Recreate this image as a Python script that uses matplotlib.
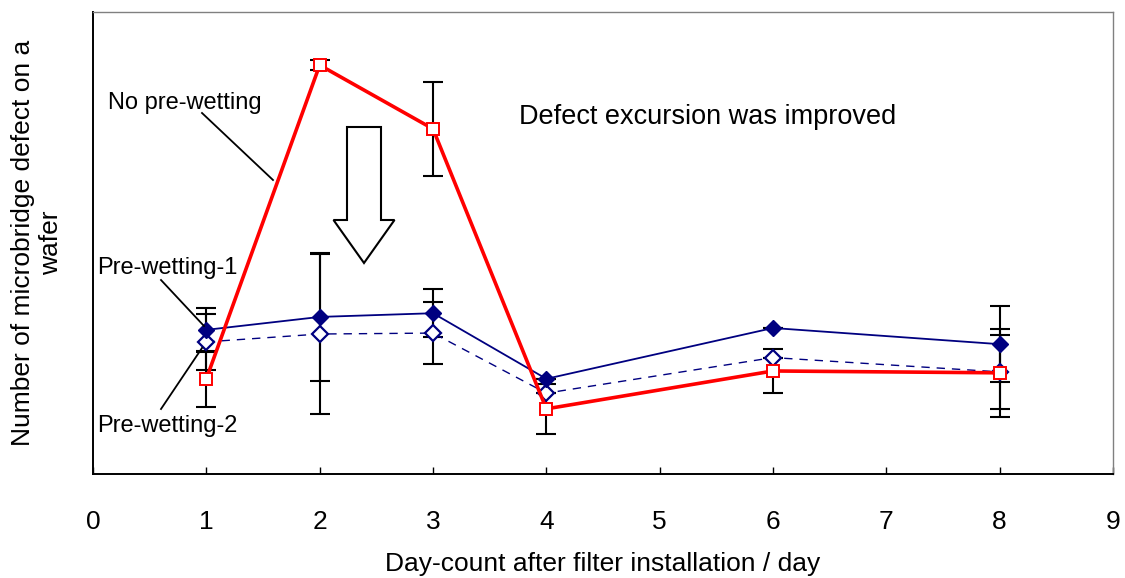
import matplotlib
matplotlib.use("Agg")
import matplotlib.pyplot as plt
from matplotlib.patches import FancyArrow

plt.rcParams['font.family'] = ['Liberation Sans', 'DejaVu Sans']

# Data (arbitrary units, axis 0..100)
days = [1, 2, 3, 4, 6, 8]
no_prewet = [20.6, 88.5, 74.7, 14.1, 22.3, 21.9]
no_prewet_err = [6.1, 1.1, 10.2, 5.4, 4.8, 9.5]
prewet1 = [31.2, 34.0, 34.8, 20.6, 31.6, 28.1]
prewet1_err = [4.8, 13.9, 5.2, 0, 0, 8.2]
prewet2 = [28.6, 30.3, 30.5, 17.5, 25.2, 22.1]
prewet2_err = [6.1, 17.3, 6.7, 0, 0, 8.0]
xticks = list(range(0, 10))

fig = plt.figure(figsize=(11.25, 5.78), dpi=100)
ax = fig.add_axes([93/1125, 1-474/578, (1113-93)/1125, (474-12)/578])

eb_kw = dict(fmt='none', ecolor='black', elinewidth=1.5, capsize=7, capthick=1.5, zorder=2)
ax.errorbar(days, prewet1, yerr=prewet1_err, **eb_kw)
ax.errorbar(days, prewet2, yerr=prewet2_err, **eb_kw)
ax.errorbar(days, no_prewet, yerr=no_prewet_err, **eb_kw)

navy = '#000080'
ax.plot(days, prewet2, color=navy, lw=1.0, ls=(0, (6, 5)), marker='D', ms=8,
        mfc='white', mec=navy, mew=1.6, zorder=3)
ax.plot(days, prewet1, color=navy, lw=1.3, marker='D', ms=8.5,
        mfc=navy, mec=navy, zorder=4)
ax.plot(days, no_prewet, color='#ff0000', lw=2.6, marker='s', ms=8.5,
        mfc='white', mec='#ff0000', mew=1.4, zorder=5)

ax.set_xlim(0, 9)
ax.set_ylim(0, 100)
ax.set_xticks(xticks)
ax.set_yticks([])
ax.tick_params(axis='x', direction='in', length=5, width=1, pad=26, labelsize=19)

for s in ['left', 'bottom']:
    ax.spines[s].set_linewidth(1.4)
    ax.spines[s].set_color('black')
for s in ['top', 'right']:
    ax.spines[s].set_linewidth(1.0)
    ax.spines[s].set_color('#808080')

ax.set_xlabel('Day-count after filter installation / day', fontsize=19, labelpad=13)
fig.text(37/1125, 1-243/578, 'Number of microbridge defect on a\nwafer', rotation=90,
         ha='center', va='center', fontsize=19, linespacing=1.25)

# annotations
def px(xp, yp):
    return ((xp - 93) / (1020 / 9), (474 - yp) / 4.62)

ax.text(*px(108, 103), 'No pre-wetting', fontsize=17, ha='left', va='center')
ax.plot(*zip(px(202, 113), px(273, 180)), color='black', lw=1.3, zorder=6)
ax.text(*px(97, 268), 'Pre-wetting-1', fontsize=17, ha='left', va='center')
ax.plot(*zip(px(161, 280), px(204, 326)), color='black', lw=1.3, zorder=6)
ax.text(*px(97, 426), 'Pre-wetting-2', fontsize=17, ha='left', va='center')
ax.plot(*zip(px(161, 409), px(202, 348)), color='black', lw=1.3, zorder=6)
ax.text(*px(519, 117), 'Defect excursion was improved', fontsize=19.5, ha='left', va='center')

x0, ytop = px(364, 127)
_, yend = px(364, 263)
_, yshaft = px(364, 220)
ax.add_patch(FancyArrow(x0, ytop, 0, yend - ytop, width=34 / 113.33, head_width=61 / 113.33,
                        head_length=yshaft - yend, length_includes_head=True,
                        fc='white', ec='black', lw=1.5, zorder=6))

fig.savefig('out.png', dpi=100)
